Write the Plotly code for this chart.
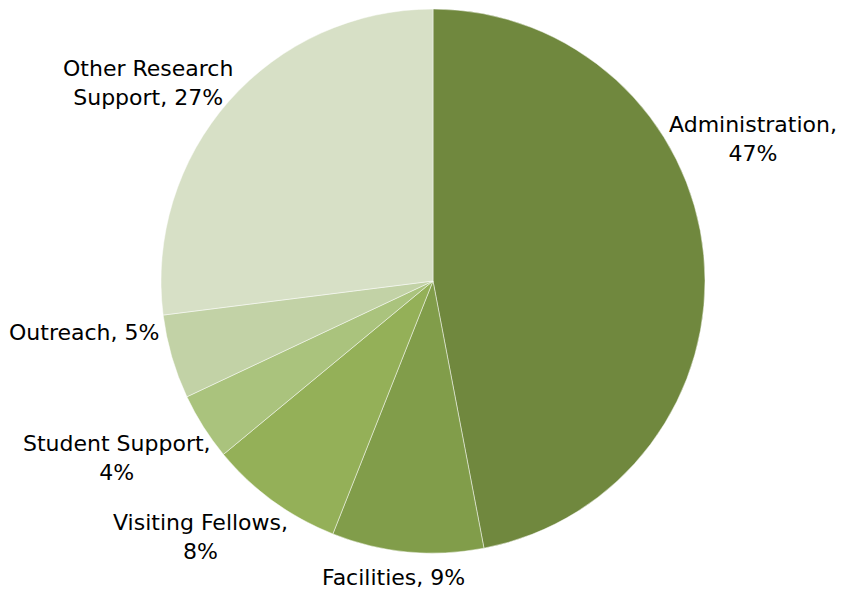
import plotly.graph_objects as go

# Budget share by category (percent), clockwise from 12 o'clock
categories = ["Administration", "Facilities", "Visiting Fellows",
              "Student Support", "Outreach", "Other Research Support"]
shares = [47, 9, 8, 4, 5, 27]
colors = ["#70883E", "#819D4A", "#94B058", "#AAC37D", "#C2D2A6", "#D7E0C6"]

# label text split as in the original chart
label_text = [
    "Administration,<br>47%",
    "Facilities, 9%",
    "Visiting Fellows,<br>8%",
    "Student Support,<br>4%",
    "Outreach, 5%",
    "Other Research<br>Support, 27%",
]
# label centres in page pixels (x, y from top)
label_px = [(753, 139), (393, 577), (200, 537), (117, 458), (84, 332), (148, 83)]

W, H = 847, 597
OFF = 8  # page body margin in the browser
cx, cy, r = 433 - OFF, 281 - OFF, 272

fig = go.Figure()
fig.add_trace(
    go.Pie(
        labels=categories,
        values=shares,
        sort=False,
        direction="clockwise",
        rotation=0,
        marker=dict(colors=colors, line=dict(color="rgba(255,255,255,0.6)", width=0.8)),
        textinfo="none",
        hoverinfo="label+percent",
        domain=dict(x=[(cx - r) / W, (cx + r) / W], y=[1 - (cy + r) / H, 1 - (cy - r) / H]),
        showlegend=False,
    )
)

for txt, (px, py) in zip(label_text, label_px):
    fig.add_annotation(
        x=(px - OFF) / W, y=1 - (py - OFF) / H, xref="paper", yref="paper",
        text=txt, showarrow=False, xanchor="center", yanchor="middle",
        font=dict(family="DejaVu Sans", size=22, color="#000000"),
    )

fig.update_layout(
    width=W,
    height=H,
    margin=dict(l=0, r=0, t=0, b=0),
    paper_bgcolor="white",
    plot_bgcolor="white",
)

fig.write_html("out.html")
